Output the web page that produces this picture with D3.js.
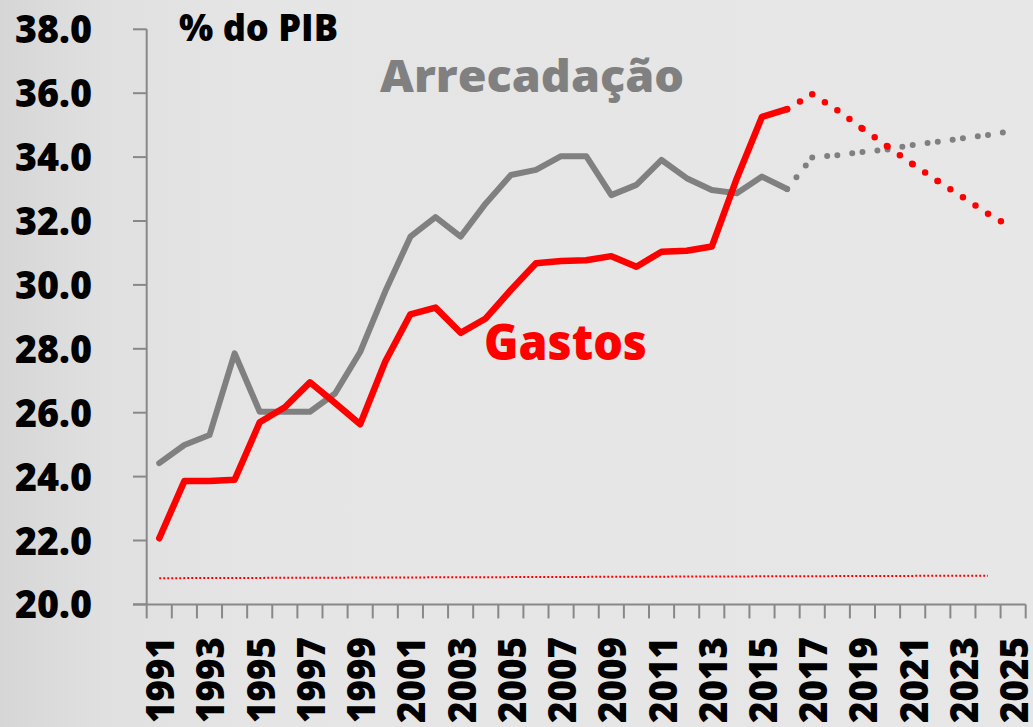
<!DOCTYPE html>
<html><head><meta charset="utf-8">
<script src="https://cdn.jsdelivr.net/npm/d3@7/dist/d3.min.js"></script>
<style>
html,body{margin:0;padding:0;background:#e6e6e6;}
svg{display:block;}
text{font-family:"Open Sans","DejaVu Sans",sans-serif;font-weight:800;}
</style></head>
<body>
<svg id="chart" width="1033" height="727"></svg>
<script>
// ---- data ----
const years = [1991,1992,1993,1994,1995,1996,1997,1998,1999,2000,2001,2002,2003,2004,2005,2006,2007,2008,2009,2010,2011,2012,2013,2014,2015,2016,2017,2018,2019,2020,2021,2022,2023,2024,2025];
const histYears = years.slice(0, 26);   // 1991-2016
const projYears = years.slice(25);      // 2016-2025
const arrecadacao = [24.42,24.99,25.3,27.86,26.03,26.03,26.03,26.6,27.9,29.8,31.51,32.12,31.51,32.55,33.44,33.6,34.03,34.03,32.81,33.13,33.91,33.34,32.97,32.87,33.39,33.0];
const arrecadacaoProj = [33.0,33.99,34.06,34.16,34.24,34.38,34.48,34.59,34.69,34.82];
const gastos = [22.07,23.86,23.86,23.9,25.7,26.17,26.95,26.3,25.64,27.6,29.08,29.29,28.5,28.95,29.84,30.68,30.75,30.77,30.9,30.57,31.04,31.07,31.2,33.34,35.26,35.5];
const gastosProj = [35.5,35.97,35.47,34.89,34.33,33.78,33.25,32.74,32.23,31.76];
const refYears = [1991, 2024];
const refLine = [20.82, 20.9];
const yTicks = [20,22,24,26,28,30,32,34,36,38];
const xLabelYears = years.filter((y,i)=> i % 2 === 0);

// ---- setup ----
const svg = d3.select("#chart");
const W = 1033, H = 727;

const defs = svg.append("defs");
const g1 = defs.append("linearGradient").attr("id","bg").attr("x1","0").attr("x2","1").attr("y1","0").attr("y2","0");
g1.append("stop").attr("offset","0").attr("stop-color","#d6d6d6");
g1.append("stop").attr("offset","0.1").attr("stop-color","#e0e0e0");
g1.append("stop").attr("offset","0.25").attr("stop-color","#e5e5e5");
g1.append("stop").attr("offset","1").attr("stop-color","#e7e7e7");
svg.append("rect").attr("width",W).attr("height",H).attr("fill","url(#bg)");

const x = d3.scaleBand().domain(years).range([146.7, 1025.7]).padding(0);
const y = d3.scaleLinear().domain([20,38]).range([604.4, 29.3]);
const cx = d => x(d) + x.bandwidth()/2;

const axisColor = "#888888";

// y axis
const gy = svg.append("g");
gy.append("line").attr("x1",x.range()[0]).attr("x2",x.range()[0])
  .attr("y1",y(38)).attr("y2",y(20)).attr("stroke",axisColor).attr("stroke-width",2);
gy.selectAll("line.t").data(yTicks).enter().append("line").attr("class","t")
  .attr("x1",133).attr("x2",x.range()[0]).attr("y1",d=>y(d)).attr("y2",d=>y(d))
  .attr("stroke",axisColor).attr("stroke-width",2);
gy.selectAll("text").data(yTicks).enter().append("text")
  .attr("x",92).attr("y",d=>y(d)+14).attr("text-anchor","end")
  .attr("font-size",39).attr("fill","#000")
  .attr("textLength",77).attr("lengthAdjust","spacingAndGlyphs")
  .text(d=>d3.format(".1f")(d));

// x axis
const gx = svg.append("g");
gx.append("line").attr("x1",133).attr("x2",x.range()[1]).attr("y1",y(20)).attr("y2",y(20))
  .attr("stroke",axisColor).attr("stroke-width",2);
const bounds = years.map(d=>x(d)).concat([x.range()[1]]);
gx.selectAll("line.t").data(bounds).enter().append("line").attr("class","t")
  .attr("x1",d=>d).attr("x2",d=>d).attr("y1",y(20)).attr("y2",y(20)+14)
  .attr("stroke",axisColor).attr("stroke-width",2);
gx.selectAll("text").data(xLabelYears).enter().append("text")
  .attr("transform",d=>`translate(${cx(d)+15},637) rotate(-90)`)
  .attr("text-anchor","end").attr("font-size",39).attr("fill","#000")
  .attr("textLength",86).attr("lengthAdjust","spacingAndGlyphs")
  .text(d=>d);

// reference dotted line
const lineGen = d3.line().x(d=>cx(d[0])).y(d=>y(d[1]));
svg.append("path").datum(refYears.map((d,i)=>[d, refLine[i]]))
  .attr("d",lineGen).attr("fill","none").attr("stroke","#ff0000")
  .attr("stroke-width",2).attr("stroke-dasharray","2 2");

function drawSeries(yrs, vals, color, width){
  svg.append("path").datum(yrs.map((d,i)=>[d, vals[i]]))
    .attr("d",lineGen).attr("fill","none").attr("stroke",color)
    .attr("stroke-width",width).attr("stroke-linejoin","round").attr("stroke-linecap","round");
}
function drawDotted(yrs, vals, color, width){
  const segs = [];
  for(let i=0;i<yrs.length-1;i++) segs.push([[yrs[i],vals[i]],[yrs[i+1],vals[i+1]]]);
  svg.append("g").selectAll("line").data(segs).enter().append("line")
    .attr("x1",d=>cx(d[0][0])).attr("y1",d=>y(d[0][1]))
    .attr("x2",d=>cx(d[1][0])).attr("y2",d=>y(d[1][1]))
    .attr("stroke",color).attr("stroke-width",width).attr("stroke-linecap","round")
    .attr("stroke-dasharray","0 15");
}

drawSeries(histYears, arrecadacao, "#808080", 6);
drawDotted(projYears, arrecadacaoProj, "#808080", 6);
drawSeries(histYears, gastos, "#ff0000", 6.5);
drawDotted(projYears, gastosProj, "#ff0000", 6.5);

// labels
svg.append("text").attr("x",179).attr("y",41).attr("font-size",37).attr("fill","#000")
  .attr("textLength",159).attr("lengthAdjust","spacingAndGlyphs").text("% do PIB");
svg.append("text").attr("x",380).attr("y",92).attr("font-size",45).attr("fill","#808080")
  .attr("textLength",304).attr("lengthAdjust","spacingAndGlyphs").text("Arrecadação");
svg.append("text").attr("x",484).attr("y",360).attr("font-size",49).attr("fill","#ff0000")
  .attr("textLength",163).attr("lengthAdjust","spacingAndGlyphs").text("Gastos");
</script>
</body></html>
